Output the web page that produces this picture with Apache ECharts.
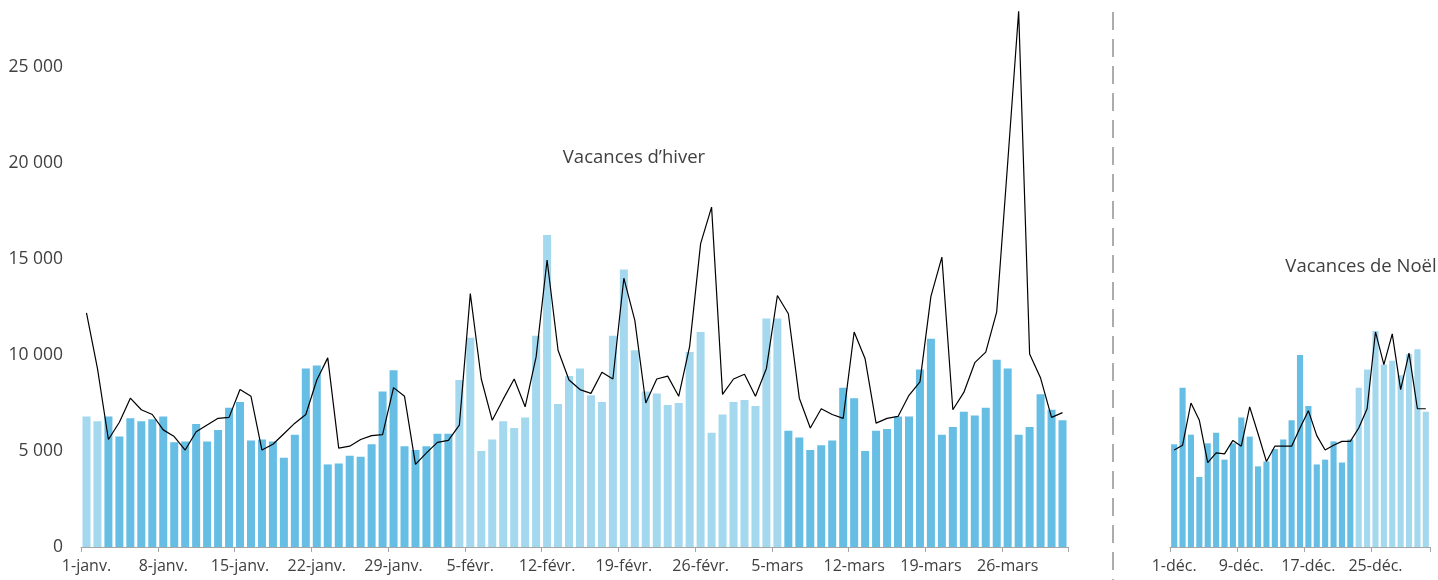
<!DOCTYPE html>
<html>
<head>
<meta charset="utf-8">
<script src="https://cdn.jsdelivr.net/npm/echarts@6.0.0/dist/echarts.min.js"></script>
<style>
  html, body { margin: 0; padding: 0; background: #fff; }
  #main { width: 1438px; height: 580px; }
</style>
</head>
<body>
<div id="main"></div>
<script>
// --- données : janvier - mars ---
const winterMonths = [["janv.", 31], ["févr.", 28], ["mars", 31]];
const winterTicks = ["1-janv.", "8-janv.", "15-janv.", "22-janv.", "29-janv.", "5-févr.", "12-févr.", "19-févr.", "26-févr.", "5-mars", "12-mars", "19-mars", "26-mars"];
const winterBars = [
  6800, 6550, 6800, 5750, 6700, 6550, 6650, 6800, 5450, 5500, 6400, 5500, 6100, 7250, 7550, 5550,
  5600, 5500, 4650, 5850, 9300, 9450, 4300, 4350, 4750, 4700, 5350, 8100, 9200, 5250, 5050,
  5250, 5900, 5900, 8700, 10900, 5000, 5600, 6550, 6200, 6750, 11000, 16250, 7450, 8900,
  9300, 7900, 7550, 11000, 14450, 10250, 8100, 8000, 7400, 7500, 10150, 11200, 5950, 6900,
  7550, 7650, 7350, 11900, 11900, 6050, 5700, 5050, 5300, 5550, 8300, 7750, 5000, 6050, 6150, 6800,
  6800, 9250, 10850, 5850, 6250, 7050, 6850, 7250, 9750, 9300, 5850, 6250, 7950, 7150, 6600
];
const winterLine = [
  12200, 9300, 5600, 6500, 7750, 7150, 6900, 6100, 5750, 5050, 6000, 6350, 6700, 6750, 8200, 7850,
  5050, 5350, 5900, 6450, 6900, 8700, 9850, 5150, 5250, 5600, 5800, 5850, 8300, 7850, 4300,
  4900, 5450, 5550, 6350, 13200, 8750, 6600, 7700, 8750, 7300, 9900, 14950, 10250, 8700,
  8200, 8000, 9100, 8750, 14000, 11800, 7500, 8750, 8900, 7850, 10450, 15800, 17700, 7950,
  8750, 9000, 7850, 9300, 13100, 12150, 7750, 6200, 7200, 6900, 6700, 11200, 9800, 6450, 6700, 6800,
  7900, 8600, 13050, 15100, 7150, 8050, 9600, 10150, 12250, 20000, 27900, 10050, 8800, 6750, 7000
];
// jours fériés / vacances (indices de jours, bornes incluses)
const winterHolidays = [[0, 1], [34, 63]];

// --- données : décembre ---
const decTicks = ["1-déc.", "9-déc.", "17-déc.", "25-déc."];
const decBars = [
  5350, 8300, 5850, 3650, 5400, 5950, 4550, 5400, 6750, 5750, 4200, 4450, 5100, 5600, 6600, 10000,
  7350, 4300, 4550, 5500, 4400, 5600, 8300, 9250, 11250, 9500, 9700, 8950, 10050, 10300, 7050
];
const decLine = [
  5050, 5300, 7500, 6600, 4400, 4900, 4850, 5550, 5250, 7300, 5900, 4450, 5250, 5250, 5250, 6200,
  7100, 5800, 5050, 5300, 5500, 5500, 6200, 7200, 11200, 9500, 11100, 8200, 10100, 7200, 7200
];
const decHolidays = [[22, 30]];

const yMax = 28000;
const yStep = 5000;

// catégories (noms de jours)
const winterDays = [];
winterMonths.forEach(([m, n]) => {
  for (let d = 1; d <= n; d++) winterDays.push(d + "-" + m);
});
const decDays = [];
for (let d = 1; d <= 31; d++) decDays.push(d + "-déc.");

const DARK = "#66BEE5";
const LIGHT = "#A3D8EF";
const TXT = "#404040";
const FONT = "'Open Sans', 'Noto Sans', sans-serif";

const inRanges = (i, ranges) => ranges.some(([a, b]) => i >= a && i <= b);
const fmt = (v) => (v % yStep === 0 ? String(v).replace(/\B(?=(\d{3})+(?!\d))/g, " ") : "");

const xAxisBase = (data, ticks, gridIndex) => ({
  type: "category",
  gridIndex,
  data,
  boundaryGap: true,
  axisLine: { show: true, lineStyle: { color: "#A6A6A6", width: 1 } },
  axisTick: {
    show: true,
    interval: (i, v) => ticks.includes(v),
    length: 5,
    lineStyle: { color: "#A6A6A6" },
  },
  axisLabel: {
    interval: (i, v) => ticks.includes(v),
    color: TXT,
    fontSize: 16,
    fontFamily: FONT,
    margin: 11,
  },
});

const barSeries = (data, holidays, idx) => ({
  type: "bar",
  xAxisIndex: idx,
  yAxisIndex: idx,
  data,
  barCategoryGap: "27%",
  itemStyle: {
    color: (p) => (inRanges(p.dataIndex, holidays) ? LIGHT : DARK),
  },
  silent: true,
});

const lineSeries = (data, idx) => ({
  type: "line",
  xAxisIndex: idx,
  yAxisIndex: idx,
  data,
  symbol: "none",
  lineStyle: { color: "#000", width: 1.2 },
  z: 5,
  silent: true,
});

const chart = echarts.init(document.getElementById("main"));
chart.setOption({
  animation: false,
  backgroundColor: "#fff",
  textStyle: { fontFamily: FONT },
  grid: [
    { left: 81, width: 987, top: 9.4, bottom: 33 },
    { left: 1170, width: 260, top: 9.4, bottom: 33 },
  ],
  xAxis: [xAxisBase(winterDays, winterTicks, 0), xAxisBase(decDays, decTicks, 1)],
  yAxis: [
    {
      type: "value",
      gridIndex: 0,
      min: 0,
      max: yMax,
      interval: yStep,
      splitLine: { show: false },
      axisLine: { show: false },
      axisTick: { show: false },
      axisLabel: { color: TXT, fontSize: 17.5, fontFamily: FONT, margin: 18, formatter: fmt },
    },
    {
      type: "value",
      gridIndex: 1,
      min: 0,
      max: yMax,
      interval: yStep,
      show: false,
      splitLine: { show: false },
    },
  ],
  series: [
    barSeries(winterBars, winterHolidays, 0),
    lineSeries(winterLine, 0),
    barSeries(decBars, decHolidays, 1),
    lineSeries(decLine, 1),
  ],
  graphic: [
    {
      type: "line",
      shape: { x1: 1113, y1: 12, x2: 1113, y2: 580 },
      style: { stroke: "#808080", lineWidth: 1.3, lineDash: [18, 9] },
      silent: true,
    },
    {
      type: "text",
      x: 634,
      y: 158,
      style: { text: "Vacances d’hiver", fill: TXT, font: "18.5px " + FONT, textAlign: "center", textVerticalAlign: "middle" },
    },
    {
      type: "text",
      x: 1361,
      y: 267,
      style: { text: "Vacances de Noël", fill: TXT, font: "18.5px " + FONT, textAlign: "center", textVerticalAlign: "middle" },
    },
  ],
});
</script>
</body>
</html>
